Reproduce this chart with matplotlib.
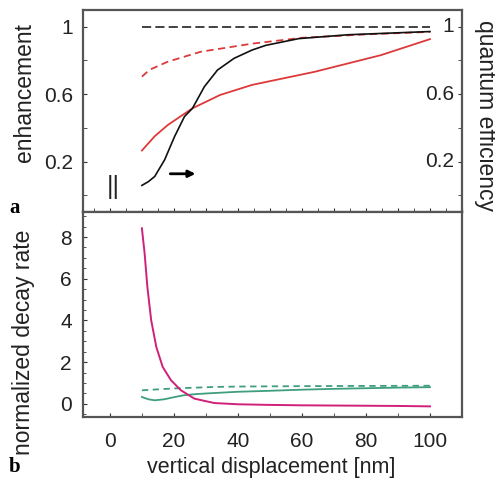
import matplotlib
matplotlib.use("Agg")
import matplotlib.pyplot as plt
from matplotlib.ticker import MultipleLocator, FixedLocator
import matplotlib.transforms as mtrans

plt.rcParams['font.family'] = ['Liberation Sans', 'DejaVu Sans']

# ---------------- data (panel a) ----------------
qe_ref_x = [10, 100]
qe_ref_y = [1.0, 1.0]

qe_x = [10, 12, 14, 17.1, 20.2, 23.3, 25.8, 29.5, 33.6, 38.8, 44.4, 48.7, 59, 74.4, 100]
qe_y = [0.058, 0.08, 0.111, 0.21, 0.348, 0.467, 0.516, 0.644, 0.743, 0.813, 0.862, 0.89, 0.93, 0.953, 0.972]

enh_dash_x = [10, 12.4, 18.1, 28.4, 44.4, 60, 80, 100]
enh_dash_y = [0.704, 0.745, 0.793, 0.852, 0.90, 0.935, 0.955, 0.97]

enh_x = [10, 14, 18.1, 25.8, 34.4, 44.4, 64, 84.7, 100]
enh_y = [0.265, 0.35, 0.417, 0.516, 0.595, 0.655, 0.733, 0.832, 0.927]

left_ticks = [0.2, 0.6, 1.0]
left_ticklabels = ['0.2', '0.6', '1']
right_ticklabels = ['0.2', '0.6', '1']

# ---------------- data (panel b) ----------------
nonrad_x = [10, 10.85, 11.7, 12.9, 14.5, 16.5, 19.1, 22.2, 26.4, 32.6, 40, 50, 60, 70, 80, 90, 100]
nonrad_y = [8.42, 7.22, 5.62, 4.01, 2.73, 1.77, 1.13, 0.65, 0.25, 0.04, -0.02, -0.05, -0.07, -0.08, -0.09, -0.10, -0.12]

rad_x = [10, 12, 14, 17, 20, 23, 27, 32.6, 40, 48.6, 60, 70, 80, 90, 100]
rad_y = [0.33, 0.22, 0.17, 0.22, 0.32, 0.41, 0.47, 0.52, 0.58, 0.62, 0.68, 0.72, 0.75, 0.78, 0.80]

rad_dash_x = [10, 20, 32.6, 40, 60, 80, 100]
rad_dash_y = [0.65, 0.74, 0.81, 0.83, 0.85, 0.86, 0.87]

x_ticks = [0, 20, 40, 60, 80, 100]
b_ticks = [0, 2, 4, 6, 8]

# ---------------- figure ----------------
W, H = 495, 482
fig = plt.figure(figsize=(W / 100, H / 100), dpi=100)

def ax_rect(l, t, r, b):
    return [l / W, 1 - b / H, (r - l) / W, (b - t) / H]

axa = fig.add_axes(ax_rect(83, 10, 462, 212))
axb = fig.add_axes(ax_rect(83, 212, 462, 417))

spine_col = '#555555'
for ax in (axa, axb):
    for s in ax.spines.values():
        s.set_color(spine_col)
        s.set_linewidth(1.6)
    ax.set_xlim(-8.4, 110)

RED = '#dc3a3a'
MAG = '#d0207a'
GRN = '#3e9e7e'
TXT = '#222222'
TICK_FS = 15
LAB_FS = 16.5

# panel a
axa.plot(qe_ref_x, qe_ref_y, color='#222222', lw=1.2, dashes=(5.5, 2.5))
axa.plot(enh_dash_x, enh_dash_y, color=RED, lw=1.3, dashes=(4, 2.5))
axa.plot(enh_x, enh_y, color=RED, lw=1.3)
axa.plot(qe_x, qe_y, color='#111111', lw=1.2)
axa.set_ylim(-0.1, 1.1)
axa.set_yticks(left_ticks)
axa.set_yticklabels(left_ticklabels)
axa.yaxis.set_minor_locator(FixedLocator([0.0, 0.4, 0.8]))
axa.xaxis.set_major_locator(MultipleLocator(10))
axa.xaxis.set_minor_locator(MultipleLocator(5))
axa.tick_params(axis='x', which='both', direction='in', labelbottom=False, length=3, color='#333333')
axa.tick_params(axis='y', which='both', direction='in', left=True, right=True, length=3,
                labelsize=TICK_FS, pad=7, color='#333333', labelcolor=TXT)

tr = mtrans.blended_transform_factory(axa.transAxes, axa.transData)
for v, lab in zip(left_ticks, right_ticklabels):
    axa.text(1 - 8 / 379, v, lab, transform=tr, ha='right', va='center', fontsize=TICK_FS, color=TXT)

axa.annotate('', xy=(27.6, 0.127), xytext=(18.0, 0.127),
             arrowprops=dict(arrowstyle='-|>', color='black', lw=2.0, mutation_scale=10))
axa.text(1.0, 0.05, '||', ha='center', va='center', fontsize=18, color=TXT)

fig.text(25 / W, 1 - 93 / H, 'enhancement', rotation=90, ha='center', va='center',
         fontsize=LAB_FS, color=TXT)
fig.text(485 / W, 1 - 116 / H, 'quantum efficiency', rotation=-90, ha='center', va='center',
         fontsize=LAB_FS, color=TXT)

# panel b
axb.plot(rad_dash_x, rad_dash_y, color=GRN, lw=1.3, dashes=(3.5, 2.5))
axb.plot(rad_x, rad_y, color=GRN, lw=1.3)
axb.plot(nonrad_x, nonrad_y, color=MAG, lw=1.4)
axb.set_ylim(-0.63, 9.2)
axb.set_yticks(b_ticks)
axb.yaxis.set_minor_locator(MultipleLocator(0.5))
axb.set_xticks(x_ticks)
axb.xaxis.set_minor_locator(MultipleLocator(10))
axb.tick_params(axis='both', which='both', direction='in', length=3, labelsize=TICK_FS,
                color='#333333', labelcolor=TXT)
axb.tick_params(axis='y', pad=8)
axb.tick_params(axis='x', pad=11)
axb.tick_params(axis='y', which='minor', length=2)

fig.text(24 / W, 1 - 342 / H, 'normalized decay rate', rotation=90, ha='center', va='center',
         fontsize=LAB_FS, color=TXT)
fig.text(271.5 / W, 1 - 467 / H, 'vertical displacement [nm]', ha='center', va='center',
         fontsize=15.5, color=TXT)

fig.text(15 / W, 1 - 208 / H, 'a', fontsize=15, fontweight='bold', family='Liberation Serif',
         ha='center', va='center')
fig.text(15 / W, 1 - 467 / H, 'b', fontsize=15, fontweight='bold', family='Liberation Serif',
         ha='center', va='center')

fig.savefig('out.png', dpi=100)
